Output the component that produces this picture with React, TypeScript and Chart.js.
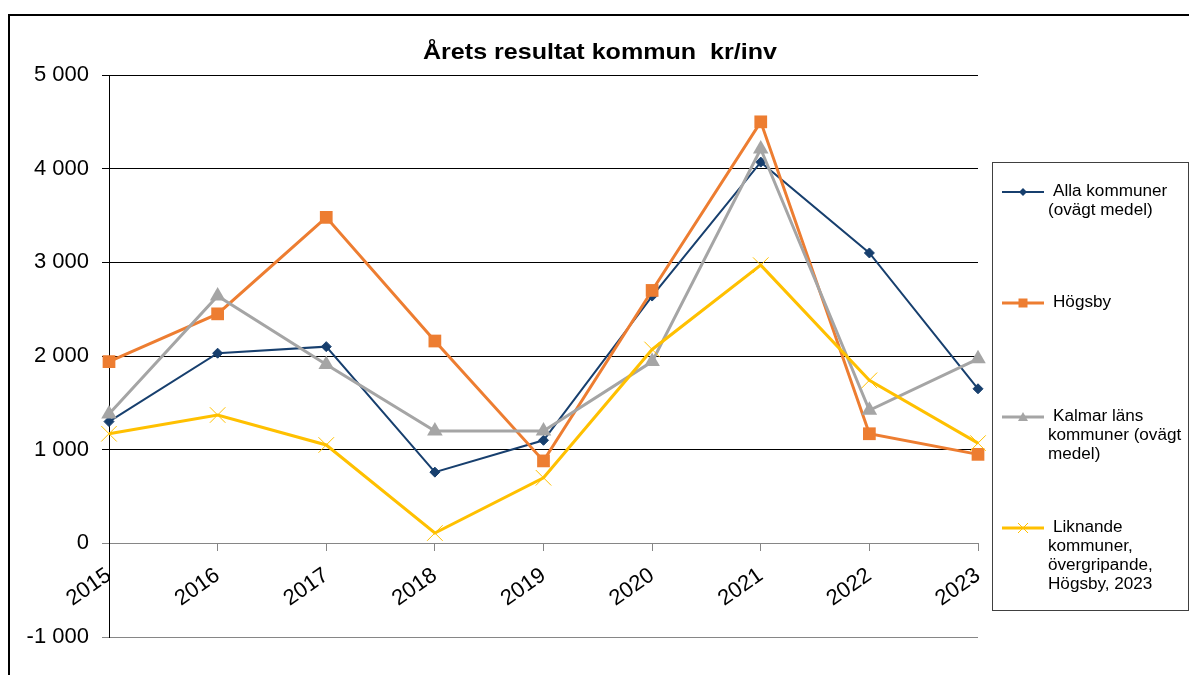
import React, { useEffect, useRef } from 'react';
import { Chart, registerables } from 'chart.js';

Chart.register(...registerables);

const years = ['2015', '2016', '2017', '2018', '2019', '2020', '2021', '2022', '2023'];
const allaKommuner = [1300, 2030, 2100, 760, 1100, 2640, 4070, 3100, 1650];
const hogsby = [1940, 2450, 3480, 2160, 880, 2700, 4500, 1170, 950];
const kalmarLan = [1380, 2640, 1910, 1200, 1200, 1940, 4210, 1420, 1970];
const liknande = [1170, 1370, 1050, 110, 700, 2070, 2970, 1740, 1070];
const yTickValues = [-1000, 0, 1000, 2000, 3000, 4000, 5000];
const titleText = 'Årets resultat kommun  kr/inv';
const legendLabels = [
  ['Alla kommuner', '(ovägt medel)'],
  ['Högsby'],
  ['Kalmar läns', 'kommuner (ovägt', 'medel)'],
  ['Liknande', 'kommuner,', 'övergripande,', 'Högsby, 2023'],
];

const NAVY = '#173F6E';
const ORANGE = '#ED7D31';
const GRAY = '#A5A5A5';
const YELLOW = '#FFC000';
const FONT = '"Liberation Sans", Arial, sans-serif';

const fmt = (v: number) => {
  const s = Math.abs(v).toString().replace(/\B(?=(\d{3})+(?!\d))/g, ' ');
  return (v < 0 ? '-' : '') + s;
};

function drawMarker(ctx: CanvasRenderingContext2D, kind: string, x: number, y: number, color: string) {
  ctx.save();
  ctx.fillStyle = color;
  ctx.strokeStyle = color;
  ctx.beginPath();
  if (kind === 'diamond') {
    const r = 4;
    ctx.moveTo(x, y - r);
    ctx.lineTo(x + r, y);
    ctx.lineTo(x, y + r);
    ctx.lineTo(x - r, y);
    ctx.closePath();
    ctx.fill();
  } else if (kind === 'square') {
    ctx.rect(x - 4.5, y - 4.5, 9, 9);
    ctx.fill();
  } else if (kind === 'triangle') {
    ctx.moveTo(x, y - 5);
    ctx.lineTo(x + 5, y + 4);
    ctx.lineTo(x - 5, y + 4);
    ctx.closePath();
    ctx.fill();
  } else {
    const r = 5;
    ctx.lineWidth = 1;
    ctx.moveTo(x - r, y - r);
    ctx.lineTo(x + r, y + r);
    ctx.moveTo(x + r, y - r);
    ctx.lineTo(x - r, y + r);
    ctx.stroke();
  }
  ctx.restore();
}

function stretchedText(ctx: CanvasRenderingContext2D, text: string, x: number, y: number, sx: number) {
  ctx.save();
  ctx.translate(x, y);
  ctx.scale(sx, 1);
  ctx.fillText(text, 0, 0);
  ctx.restore();
}

const decorPlugin = {
  id: 'decor',
  afterDraw(chart: any) {
    const ctx: CanvasRenderingContext2D = chart.ctx;
    ctx.save();
    // outer frame
    ctx.fillStyle = '#000';
    ctx.fillRect(0, 6, chart.width, 2);
    ctx.fillRect(0, 6, 2, chart.height);
    // title
    ctx.fillStyle = '#000';
    ctx.font = `bold 22px ${FONT}`;
    ctx.textAlign = 'center';
    ctx.textBaseline = 'middle';
    const tw = ctx.measureText(titleText).width;
    stretchedText(ctx, titleText, 592, 45, 354 / tw);
    // legend box
    ctx.strokeStyle = '#404040';
    ctx.lineWidth = 1;
    ctx.strokeRect(984.5, 154.5, 196, 448);
    const rows = [184, 295, 409, 520];
    const kinds = ['diamond', 'square', 'triangle', 'cross'];
    ctx.font = `16px ${FONT}`;
    ctx.textAlign = 'left';
    ctx.textBaseline = 'middle';
    chart.data.datasets.forEach((ds: any, i: number) => {
      const y = rows[i];
      ctx.strokeStyle = ds.borderColor;
      ctx.lineWidth = ds.borderWidth;
      ctx.beginPath();
      ctx.moveTo(994, y);
      ctx.lineTo(1036, y);
      ctx.stroke();
      drawMarker(ctx, kinds[i], 1015, y, ds.borderColor);
      ctx.fillStyle = '#000';
      legendLabels[i].forEach((line, j) => {
        stretchedText(ctx, line, j === 0 ? 1045 : 1040, y + j * 18.7, 1.07);
      });
    });
    ctx.restore();
  },
};

export default function App() {
  const ref = useRef<HTMLCanvasElement>(null);
  useEffect(() => {
    if (!ref.current) return;
    const gridColor = (c: any) => (c.tick && (c.tick.value === 0 || c.tick.value === -1000) ? '#868686' : '#000');
    const chart = new Chart(ref.current, {
      type: 'line',
      data: {
        labels: years,
        datasets: [
          {
            label: legendLabels[0].join(' '),
            data: allaKommuner,
            borderColor: NAVY,
            backgroundColor: NAVY,
            borderWidth: 2,
            pointStyle: 'rectRot',
            pointRadius: 5,
            pointBorderWidth: 1,
            pointBackgroundColor: NAVY,
            pointBorderColor: NAVY,
            tension: 0,
            order: 3,
          },
          {
            label: legendLabels[1].join(' '),
            data: hogsby,
            borderColor: ORANGE,
            backgroundColor: ORANGE,
            borderWidth: 3,
            pointStyle: 'rect',
            pointRadius: 9,
            pointBorderWidth: 0,
            pointBackgroundColor: ORANGE,
            pointBorderColor: ORANGE,
            tension: 0,
            order: 2,
          },
          {
            label: legendLabels[2].join(' '),
            data: kalmarLan,
            borderColor: GRAY,
            backgroundColor: GRAY,
            borderWidth: 3,
            pointStyle: 'triangle',
            pointRadius: 9,
            pointBorderWidth: 0,
            pointBackgroundColor: GRAY,
            pointBorderColor: GRAY,
            tension: 0,
            order: 1,
          },
          {
            label: legendLabels[3].join(' '),
            data: liknande,
            borderColor: YELLOW,
            backgroundColor: YELLOW,
            borderWidth: 3,
            pointStyle: 'crossRot',
            pointRadius: 11,
            pointBorderWidth: 1,
            pointBackgroundColor: YELLOW,
            pointBorderColor: YELLOW,
            tension: 0,
            order: 0,
          },
        ],
      },
      options: {
        animation: false,
        responsive: false,
        devicePixelRatio: 1,
        layout: { padding: { left: 0, top: 67, right: 219, bottom: 38 } },
        plugins: {
          legend: { display: false },
          title: { display: false },
          tooltip: { enabled: false },
        },
        scales: {
          x: {
            type: 'category',
            position: { y: 0 } as any,
            offset: false,
            grid: {
              display: true,
              drawOnChartArea: false,
              drawTicks: true,
              tickLength: 7,
              color: '#868686',
            },
            border: { display: true, color: '#868686', width: 1 },
            ticks: {
              autoSkip: false,
              maxRotation: 35,
              minRotation: 35,
              color: '#000',
              font: { family: FONT, size: 22 },
              padding: 12,
            },
          },
          y: {
            min: -1000,
            max: 5000,
            afterFit: (s: any) => {
              s.width = 101;
            },
            afterBuildTicks: (s: any) => {
              s.ticks = yTickValues.map((v) => ({ value: v }));
            },
            grid: {
              color: gridColor,
              tickColor: gridColor,
              tickLength: 7,
              lineWidth: 1,
            },
            border: { display: true, color: '#000', width: 1 },
            ticks: {
              color: '#000',
              font: { family: FONT, size: 22 },
              padding: 13,
              callback: (v: any) => fmt(Number(v)),
            },
          },
        },
      },
      plugins: [decorPlugin],
    });
    return () => chart.destroy();
  }, []);
  return (
    <canvas
      ref={ref}
      width={1189}
      height={667}
      style={{ display: 'block', width: 1189, height: 667 }}
    />
  );
}
